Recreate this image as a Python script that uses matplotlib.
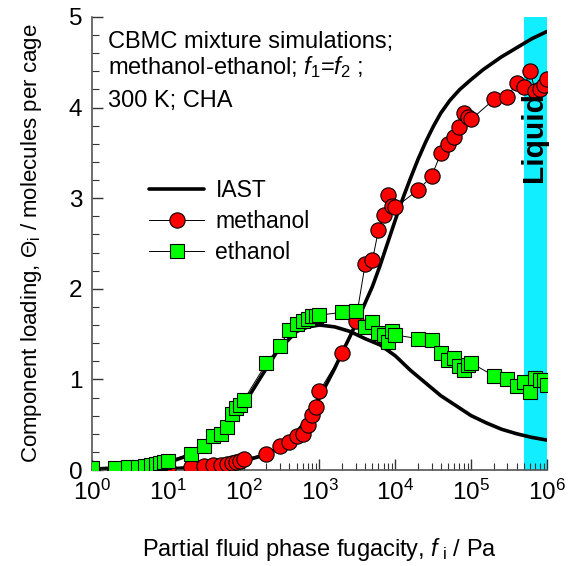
import matplotlib
matplotlib.use("Agg")
import matplotlib.pyplot as plt
import numpy as np
from matplotlib.ticker import LogLocator, MultipleLocator, NullFormatter

plt.rcParams['font.family'] = ['Liberation Sans', 'DejaVu Sans']
plt.rcParams['mathtext.fontset'] = 'custom'
plt.rcParams['mathtext.rm'] = 'Liberation Sans'
plt.rcParams['mathtext.it'] = 'Liberation Sans:italic'
plt.rcParams['mathtext.bf'] = 'Liberation Sans:bold'

# ---- data ----
meoh_f = [1, 2, 3, 4, 5, 6, 7, 8, 9,
          10, 20, 30, 40, 50, 60, 70, 80, 90,
          100, 200, 300, 400, 500, 600, 700, 800, 900,
          1000, 2000, 3000, 4000, 5000, 6000, 7000, 8000, 9000,
          1e4, 2e4, 3e4, 4e4, 5e4, 6e4, 7e4, 8e4, 9e4,
          1e5, 2e5, 3e5, 4e5, 5e5, 6e5, 7e5, 8e5, 9e5, 1e6]
meoh_q = [0.0, 0.003, 0.005, 0.007, 0.009, 0.011, 0.013, 0.015, 0.017,
          0.02, 0.03, 0.04, 0.05, 0.06, 0.07, 0.08, 0.09, 0.10,
          0.12, 0.18, 0.27, 0.31, 0.37, 0.40, 0.50, 0.61, 0.70,
          0.87, 1.29, 1.64, 2.27, 2.32, 2.65, 2.81, 3.04, 2.91,
          2.90, 3.09, 3.24, 3.50, 3.60, 3.68, 3.79, 3.94, 3.90,
          3.87, 4.09, 4.12, 4.27, 4.23, 4.40, 4.18, 4.21, 4.25, 4.32]

etoh_f = meoh_f
etoh_q = [0.02, 0.02, 0.03, 0.035, 0.045, 0.055, 0.065, 0.08, 0.09,
          0.10, 0.18, 0.27, 0.37, 0.40, 0.48, 0.62, 0.68, 0.72,
          0.77, 1.18, 1.37, 1.54, 1.61, 1.64, 1.67, 1.70, 1.70,
          1.71, 1.74, 1.75, 1.58, 1.63, 1.51, 1.49, 1.41, 1.53,
          1.49, 1.45, 1.43, 1.29, 1.21, 1.24, 1.15, 1.10, 1.16,
          1.18, 1.04, 1.00, 0.93, 0.97, 0.86, 1.02, 0.99, 0.99, 0.94]

iast_meoh_logf = [0.0, 1.0, 1.5, 2.0, 2.3, 2.57, 2.83, 3.0, 3.1, 3.2, 3.3, 3.4,
                  3.5, 3.6, 3.7, 3.8, 3.9, 4.0, 4.1, 4.2, 4.3, 4.4, 4.5, 4.6,
                  4.72, 4.85, 5.0, 5.16, 5.4, 5.6, 5.8, 6.0]
iast_meoh_q = [0.0, 0.01, 0.04, 0.10, 0.17, 0.29, 0.55, 0.80, 0.96, 1.12, 1.30,
               1.47, 1.65, 1.84, 2.03, 2.26, 2.51, 2.76, 3.00, 3.22, 3.43, 3.62,
               3.79, 3.94, 4.08, 4.20, 4.31, 4.42, 4.56, 4.66, 4.76, 4.84]

iast_etoh_logf = [0.0, 0.5, 1.0, 1.3, 1.5, 1.7, 2.0, 2.23, 2.45, 2.7, 2.85, 3.0,
                  3.2, 3.4, 3.6, 3.8, 4.0, 4.2, 4.4, 4.6, 4.8, 5.0, 5.2, 5.4,
                  5.6, 5.8, 6.0]
iast_etoh_q = [0.01, 0.03, 0.08, 0.17, 0.27, 0.42, 0.72, 1.03, 1.32, 1.53, 1.58,
               1.60, 1.58, 1.53, 1.45, 1.38, 1.26, 1.10, 0.96, 0.82, 0.71, 0.60,
               0.52, 0.45, 0.40, 0.36, 0.33]

liquid_range = (5e5, 1e6)

# ---- figure ----
fig = plt.figure(figsize=(5.69, 5.66), dpi=100)
ax = fig.add_axes([0.1617, 0.1696, 0.7996, 0.8004])

ax.axvspan(*liquid_range, color='#11eeff', lw=0, zorder=0)

ax.plot(10 ** np.array(iast_meoh_logf), iast_meoh_q, color='black', lw=2.6,
        zorder=2, label='IAST', solid_capstyle='round')
ax.plot(10 ** np.array(iast_etoh_logf), iast_etoh_q, color='black', lw=2.6,
        zorder=2, solid_capstyle='round')

ax.plot(meoh_f, meoh_q, color='black', lw=0.7, marker='o', ms=11,
        mfc='#ff0000', mec='black', mew=0.8, zorder=3, label='methanol')
ax.plot(etoh_f, etoh_q, color='black', lw=0.7, marker='s', ms=10.5,
        mfc='#00ff00', mec='black', mew=0.8, zorder=3, label='ethanol')

ax.set_xscale('log')
ax.set_xlim(1, 1e6)
ax.set_ylim(0, 5)

ax.xaxis.set_major_locator(LogLocator(base=10, numticks=10))
ax.xaxis.set_minor_locator(LogLocator(base=10, subs=np.arange(2, 10), numticks=20))
ax.xaxis.set_minor_formatter(NullFormatter())
ax.yaxis.set_major_locator(MultipleLocator(1))
ax.yaxis.set_minor_locator(MultipleLocator(0.2))

for s in ['top', 'right']:
    ax.spines[s].set_visible(False)
for s in ['left', 'bottom']:
    ax.spines[s].set_color('#555555')
    ax.spines[s].set_linewidth(1.2)

ax.tick_params(which='both', direction='in', color='#333333', labelsize=17.5,
               top=False, right=False)
ax.tick_params(which='major', length=8, width=1.0, pad=7)
ax.tick_params(which='minor', length=5, width=0.8)

ax.set_xlabel('Partial fluid phase fugacity, $\\mathit{f}_{\\mathrm{\\ i}}$ / Pa',
              fontsize=17)
ax.set_ylabel('Component loading, Θ$_{\\mathrm{i}}$ / molecules per cage',
              fontsize=16)
ax.xaxis.set_label_coords(0.5, -0.145)
ax.yaxis.set_label_coords(-0.105, 0.5)

ax.text(0.035, 0.968, 'CBMC mixture simulations;\nmethanol-ethanol; $\\mathit{f}_1$=$\\mathit{f}_2$ ;',
        transform=ax.transAxes, fontsize=17, va='top', ha='left', linespacing=1.05)
ax.text(0.035, 0.838, '300 K; CHA', transform=ax.transAxes, fontsize=17,
        va='top', ha='left')

ax.text(6.7e5, 3.68, 'Liquid', rotation=90, fontsize=21.5, fontweight='bold',
        ha='center', va='center', zorder=4)

ax.legend(loc='upper left', bbox_to_anchor=(0.08, 0.687), frameon=False,
          fontsize=16.5, handlelength=2.4, handletextpad=0.5, labelspacing=0.33)

fig.savefig('out.png', dpi=100)
